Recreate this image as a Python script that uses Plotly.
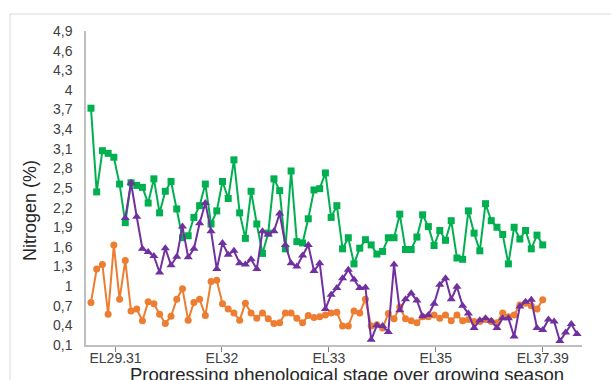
import plotly.graph_objects as go

# ---- data ----
green_vals = [3.72, 2.44, 3.07, 3.03, 2.97, 2.56, 1.97, 2.58, 2.54, 2.51,
              2.27, 2.64, 2.12, 2.45, 2.60, 2.18, 1.74, 1.77, 2.05, 2.23,
              2.56, 1.95, 2.15, 2.60, 2.34, 2.93, 2.12, 1.73, 2.45, 1.95,
              1.50, 1.81, 2.64, 2.46, 1.57, 2.76, 1.68, 1.66, 2.03, 2.47,
              2.49, 2.73, 2.05, 2.23, 1.57, 1.74, 1.34, 1.58, 1.71, 1.63,
              1.49, 1.53, 1.74, 1.74, 2.10, 1.56, 1.56, 1.75, 2.09, 1.91,
              1.62, 1.85, 1.70, 2.00, 1.43, 1.41, 2.15, 1.81, 1.54, 2.26,
              2.00, 1.90, 1.79, 1.34, 1.90, 1.72, 1.85, 1.57, 1.78, 1.63]

orange_vals = [0.75, 1.26, 1.33, 0.57, 1.63, 0.80, 1.39, 0.62, 0.65, 0.47,
               0.76, 0.73, 0.57, 0.43, 0.54, 0.80, 0.96, 0.48, 0.75, 0.80,
               0.55, 1.07, 1.09, 0.73, 0.65, 0.59, 0.48, 0.74, 0.59, 0.51,
               0.59, 0.50, 0.43, 0.44, 0.59, 0.59, 0.51, 0.44, 0.55, 0.52,
               0.53, 0.56, 0.59, 0.60, 0.39, 0.39, 0.62, 0.59, 0.80, 0.39,
               0.41, 0.36, 0.58, 0.50, 0.68, 0.50, 0.47, 0.44, 0.53, 0.53,
               0.56, 0.51, 0.56, 0.47, 0.56, 0.47, 0.49, 0.46, 0.46, 0.49,
               0.46, 0.44, 0.59, 0.53, 0.56, 0.71, 0.74, 0.70, 0.65, 0.79]

purple_vals = [2.04, 2.58, 2.06, 1.57, 1.52, 1.46, 1.21, 1.58, 1.32, 1.45,
               1.91, 1.44, 1.57, 1.96, 2.27, 1.84, 1.26, 1.66, 1.48, 1.54,
               1.35, 1.33, 1.41, 1.26, 1.84, 1.79, 1.84, 2.11, 1.63, 1.35,
               1.30, 1.47, 1.63, 1.23, 1.35, 0.65, 0.87, 0.97, 1.12, 1.25,
               1.10, 0.97, 0.98, 0.18, 0.40, 0.39, 0.30, 1.33, 0.63, 0.80,
               0.89, 0.78, 0.54, 0.56, 0.73, 1.02, 1.12, 0.80, 0.99, 0.70,
               0.58, 0.36, 0.48, 0.51, 0.47, 0.36, 0.51, 0.51, 0.23, 0.69,
               0.76, 0.79, 0.36, 0.33, 0.49, 0.46, 0.16, 0.29, 0.42, 0.27]

green_x = list(range(0, 80))
orange_x = list(range(0, 80))
purple_x = list(range(6, 86))

x_tick_pos = [4.3, 22.9, 41.6, 60.3, 79.0]
x_tick_labels = ["EL29.31", "EL32", "EL33", "EL35", "EL37.39"]

y_tick_vals = [0.1, 0.4, 0.7, 1.0, 1.3, 1.6, 1.9, 2.2, 2.5, 2.8, 3.1, 3.4, 3.7, 4.0, 4.3, 4.6, 4.9]
y_tick_labels = ["0,1", "0,4", "0,7", "1", "1,3", "1,6", "1,9", "2,2", "2,5", "2,8",
                 "3,1", "3,4", "3,7", "4", "4,3", "4,6", "4,9"]

FONT = "Liberation Sans, Arial, sans-serif"

fig = go.Figure()
fig.add_trace(go.Scatter(x=green_x, y=green_vals, mode="lines+markers",
                         line=dict(color="#00B050", width=2),
                         marker=dict(symbol="square", size=7, color="#00B050")))
fig.add_trace(go.Scatter(x=orange_x, y=orange_vals, mode="lines+markers",
                         line=dict(color="#ED7D31", width=2),
                         marker=dict(symbol="circle", size=7, color="#ED7D31")))
fig.add_trace(go.Scatter(x=purple_x, y=purple_vals, mode="lines+markers",
                         line=dict(color="#7030A0", width=2),
                         marker=dict(symbol="triangle-up", size=8, color="#7030A0")))

W, H = 611, 380
L, R, T, B = 86, 29, 31, 35
pw, ph = W - L - R, H - T - B


def px_x(p):
    return (p - L) / pw


def px_y(p):
    return (H - B - p) / ph


fig.update_layout(
    width=W, height=H,
    margin=dict(l=L, r=R, t=T, b=B),
    paper_bgcolor="white", plot_bgcolor="white",
    showlegend=False,
    font=dict(family=FONT, size=14, color="#404040"),
    xaxis=dict(range=[-0.87, 85.87], tickmode="array", tickvals=x_tick_pos,
               ticktext=x_tick_labels, showgrid=False, zeroline=False,
               showline=True, linecolor="#BFBFBF", linewidth=1.5,
               ticks="outside", ticklen=5, tickcolor="#808080", tickwidth=1,
               ticklabelstandoff=-6,
               tickfont=dict(size=14, color="#404040")),
    yaxis=dict(range=[0.1, 4.9], tickmode="array", tickvals=y_tick_vals,
               ticktext=y_tick_labels, showgrid=False, zeroline=False,
               showline=True, linecolor="#BFBFBF", linewidth=1.5,
               ticks="", ticklabelstandoff=9,
               tickfont=dict(size=14, color="#404040")),
    shapes=[dict(type="rect", xref="paper", yref="paper",
                 x0=px_x(10), x1=px_x(640), y0=px_y(400), y1=px_y(14),
                 line=dict(color="#D9D9D9", width=1), fillcolor="rgba(0,0,0,0)",
                 layer="below")],
    annotations=[
        dict(text="Nitrogen (%)", xref="paper", yref="paper",
             x=px_x(30), y=px_y(211), textangle=-90, showarrow=False,
             xanchor="center", yanchor="middle",
             font=dict(size=18, color="#262626", family=FONT)),
        dict(text="Progressing phenological stage over growing season",
             xref="paper", yref="paper", x=px_x(347), y=px_y(374),
             showarrow=False, xanchor="center", yanchor="middle",
             font=dict(size=18.5, color="#262626", family=FONT)),
    ],
)

fig.write_html("out.html")
